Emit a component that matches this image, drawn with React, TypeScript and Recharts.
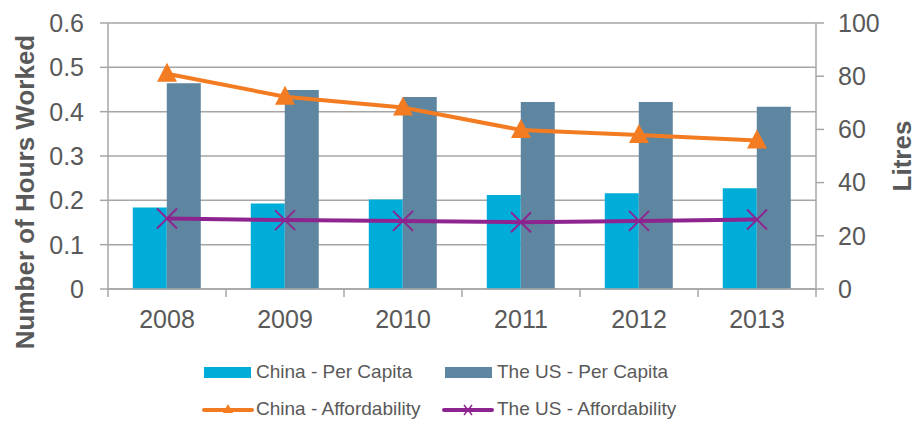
import React from 'react';
import { ComposedChart, Bar, Line, XAxis, YAxis, CartesianGrid } from 'recharts';

const years = ['2008', '2009', '2010', '2011', '2012', '2013'];
const chinaPerCapita = [0.184, 0.193, 0.202, 0.212, 0.216, 0.227];
const usPerCapita = [0.464, 0.449, 0.433, 0.422, 0.422, 0.411];
const chinaAffordability = [80.9, 72.3, 68.2, 59.8, 57.9, 55.8];
const usAffordability = [26.5, 25.9, 25.6, 25.1, 25.6, 26.1];
const leftTicks = [0, 0.1, 0.2, 0.3, 0.4, 0.5, 0.6];
const rightTicks = [0, 20, 40, 60, 80, 100];

const seriesNames = {
  chinaPC: 'China - Per Capita',
  usPC: 'The US - Per Capita',
  chinaAf: 'China - Affordability',
  usAf: 'The US - Affordability',
};

const data = years.map((y, i) => ({
  year: y,
  chinaPC: chinaPerCapita[i],
  usPC: usPerCapita[i],
  chinaAf: chinaAffordability[i],
  usAf: usAffordability[i],
}));

const CHINA = '#00ADD9';
const US = '#5E86A0';
const ORANGE = '#F37B21';
const PURPLE = '#8E248F';
const GRID = '#A6A6A6';
const TEXT = '#595959';
const FONT = '"Liberation Sans", Arial, sans-serif';

const TriangleDot = (props: any) => {
  const { cx, cy, index } = props;
  if (cx == null || cy == null) return null;
  return (
    <polygon
      key={`tri-${index}`}
      points={`${cx},${cy - 11} ${cx - 10},${cy + 8} ${cx + 10},${cy + 8}`}
      fill={ORANGE}
    />
  );
};

const CrossDot = (props: any) => {
  const { cx, cy, index } = props;
  if (cx == null || cy == null) return null;
  const s = 10;
  return (
    <g key={`x-${index}`}>
      <line x1={cx - s} y1={cy - s} x2={cx + s} y2={cy + s} stroke={PURPLE} strokeWidth={2} />
      <line x1={cx - s} y1={cy + s} x2={cx + s} y2={cy - s} stroke={PURPLE} strokeWidth={2} />
    </g>
  );
};

const XTick = (props: any) => {
  const { x, y, payload, index, width, visibleTicksCount } = props;
  const count = visibleTicksCount || years.length;
  const half = width ? width / count / 2 : 0;
  const axisY = y - 21;
  return (
    <g>
      {half > 0 && (
        <line x1={x - half} y1={axisY} x2={x - half} y2={axisY + 8} stroke={GRID} strokeWidth={1.5} />
      )}
      {half > 0 && index === count - 1 && (
        <line x1={x + half} y1={axisY} x2={x + half} y2={axisY + 8} stroke={GRID} strokeWidth={1.5} />
      )}
      <text x={x} y={y} dy="0.71em" textAnchor="middle" fill={TEXT} fontSize={25} fontFamily={FONT}>
        {payload.value}
      </text>
    </g>
  );
};

const LegendBox = () => (
  <svg width={919} height={74} style={{ position: 'absolute', left: 0, top: 350 }}>
    <g fontFamily={FONT} fontSize={19} fill={TEXT}>
      <rect x={204} y={17} width={47} height={11} fill={CHINA} />
      <text x={256} y={28}>{seriesNames.chinaPC}</text>
      <rect x={445} y={17} width={47} height={11} fill={US} />
      <text x={497} y={28}>{seriesNames.usPC}</text>

      <line x1={204} y1={60} x2={252} y2={60} stroke={ORANGE} strokeWidth={4} strokeLinecap="round" />
      <polygon points="228,54 223,63 233,63" fill={ORANGE} />
      <text x={256} y={65}>{seriesNames.chinaAf}</text>
      <line x1={444} y1={60} x2={492} y2={60} stroke={PURPLE} strokeWidth={4} strokeLinecap="round" />
      <line x1={464} y1={55} x2={472} y2={65} stroke={PURPLE} strokeWidth={1.5} />
      <line x1={464} y1={65} x2={472} y2={55} stroke={PURPLE} strokeWidth={1.5} />
      <text x={497} y={65}>{seriesNames.usAf}</text>
    </g>
  </svg>
);

export default function App() {
  return (
    <div style={{ position: 'absolute', left: 0, top: 0, width: 919, height: 424, background: '#fff' }}>
      <ComposedChart
        width={919}
        height={424}
        data={data}
        margin={{ top: 23, right: 0, bottom: 85, left: 0 }}
        barGap={0}
        barCategoryGap="21%"
      >
        <CartesianGrid yAxisId="left" vertical={false} stroke={GRID} strokeWidth={1.5} />
        <XAxis
          dataKey="year"
          height={50}
          axisLine={{ stroke: GRID, strokeWidth: 1.5 }}
          tickLine={false}
          tickSize={0}
          tickMargin={21}
          tick={<XTick />}
          interval={0}
        />
        <YAxis
          yAxisId="left"
          orientation="left"
          width={108}
          domain={[0, 0.6]}
          ticks={leftTicks}
          tickSize={8}
          tickMargin={16}
          axisLine={{ stroke: GRID, strokeWidth: 1.5 }}
          tickLine={{ stroke: GRID, strokeWidth: 1.5 }}
          tick={{ fill: TEXT, fontSize: 25, fontFamily: FONT }}
          label={{
            value: 'Number of Hours Worked',
            content: () => (
              <text
                x={25}
                y={192}
                transform="rotate(-90 25 192)"
                textAnchor="middle"
                dominantBaseline="central"
                fill={TEXT}
                fontSize={26}
                fontWeight="bold"
                fontFamily={FONT}
              >
                Number of Hours Worked
              </text>
            ),
          }}
        />
        <YAxis
          yAxisId="right"
          orientation="right"
          width={103}
          domain={[0, 100]}
          ticks={rightTicks}
          tickSize={8}
          tickMargin={14}
          axisLine={{ stroke: GRID, strokeWidth: 1.5 }}
          tickLine={{ stroke: GRID, strokeWidth: 1.5 }}
          tick={{ fill: TEXT, fontSize: 25, fontFamily: FONT }}
          label={{
            value: 'Litres',
            content: () => (
              <text
                x={902}
                y={156}
                transform="rotate(-90 902 156)"
                textAnchor="middle"
                dominantBaseline="central"
                fill={TEXT}
                fontSize={26}
                fontWeight="bold"
                fontFamily={FONT}
              >
                Litres
              </text>
            ),
          }}
        />
        <Bar yAxisId="left" dataKey="chinaPC" name={seriesNames.chinaPC} fill={CHINA} isAnimationActive={false} />
        <Bar yAxisId="left" dataKey="usPC" name={seriesNames.usPC} fill={US} isAnimationActive={false} />
        <Line
          yAxisId="right"
          type="linear"
          dataKey="chinaAf"
          name={seriesNames.chinaAf}
          stroke={ORANGE}
          strokeWidth={4}
          dot={<TriangleDot />}
          activeDot={false}
          isAnimationActive={false}
        />
        <Line
          yAxisId="right"
          type="linear"
          dataKey="usAf"
          name={seriesNames.usAf}
          stroke={PURPLE}
          strokeWidth={4}
          dot={<CrossDot />}
          activeDot={false}
          isAnimationActive={false}
        />
      </ComposedChart>
      <LegendBox />
    </div>
  );
}
